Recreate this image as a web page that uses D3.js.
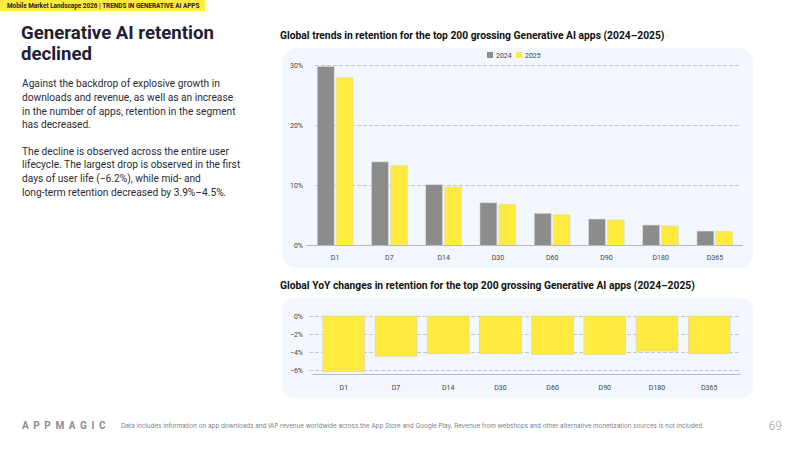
<!DOCTYPE html>
<html lang="en">
<head>
  <meta charset="UTF-8">
  <title>Generative AI retention declined</title>
  <script src="https://d3js.org/d3.v7.min.js"></script>
  <style>
    body {
      margin: 0;
      background: #fff;
      font-family: 'Roboto', 'Inter', sans-serif;
    }

    .grid line {
      stroke: #c8c8c8;
      stroke-dasharray: 4 2;
      shape-rendering: crispEdges;
    }

    .grid path {
      stroke-width: 0;
    }

    .axis text {
      font-family: 'Roboto', sans-serif;
      font-size: 7px;
      fill: #444;
    }

    .axis path, .axis line {
      display: none;
    }

    .body-text {
      font-size: 10.2px;
      fill: #2b2b33;
    }
  </style>
</head>
<body>
  <svg width="800" height="450"></svg>

  <script>
    const periods = ["D1", "D7", "D14", "D30", "D60", "D90", "D180", "D365"];
    const years = ["2024", "2025"];
    const retention2024 = [29.75, 13.9, 10.1, 7.1, 5.35, 4.4, 3.4, 2.4];
    const retention2025 = [27.9, 13.3, 9.75, 6.85, 5.1, 4.25, 3.25, 2.35];
    const yoyChange = [-6.2, -4.5, -4.2, -4.2, -4.3, -4.3, -3.9, -4.2];
    const topTicks = [0, 10, 20, 30];
    const bottomTicks = [0, -2, -4, -6];

    const colors = { "2024": "#8c8c8c", "2025": "#ffea3f" };

    const svg = d3.select("svg");

    // Header banner
    svg.append("rect").attr("x", 0).attr("y", 0).attr("width", 205).attr("height", 11).attr("fill", "#ffea3f");
    svg.append("text").attr("x", 7).attr("y", 8)
      .style("font-size", "6.4px").style("font-weight", "bold").attr("fill", "#1e2035")
      .text("Mobile Market Landscape 2026 | TRENDS IN GENERATIVE AI APPS");

    // Left headline
    const headline = svg.append("text")
      .style("font-size", "18.6px").style("font-weight", "bold").attr("fill", "#1e2035");
    headline.append("tspan").attr("x", 21).attr("y", 38.5).text("Generative AI retention");
    headline.append("tspan").attr("x", 21).attr("y", 59.5).text("declined");

    const para1 = [
      "Against the backdrop of explosive growth in",
      "downloads and revenue, as well as an increase",
      "in the number of apps, retention in the segment",
      "has decreased."
    ];
    const para2 = [
      "The decline is observed across the entire user",
      "lifecycle. The largest drop is observed in the first",
      "days of user life (\u22126.2%), while mid- and",
      "long-term retention decreased by 3.9%\u20134.5%."
    ];
    para1.forEach((t, i) => svg.append("text").attr("class", "body-text")
      .attr("x", 22).attr("y", 87 + i * 13.8).text(t));
    para2.forEach((t, i) => svg.append("text").attr("class", "body-text")
      .attr("x", 22).attr("y", 154.5 + i * 13.8).text(t));

    // Chart titles
    svg.append("text").attr("x", 280).attr("y", 38.5)
      .style("font-size", "10.3px").style("font-weight", "bold").attr("fill", "#111")
      .text("Global trends in retention for the top 200 grossing Generative AI apps (2024\u20132025)");
    svg.append("text").attr("x", 280).attr("y", 288.5)
      .style("font-size", "10.3px").style("font-weight", "bold").attr("fill", "#111")
      .text("Global YoY changes in retention for the top 200 grossing Generative AI apps (2024\u20132025)");

    // Panels
    svg.append("rect").attr("x", 282).attr("y", 48).attr("width", 471).attr("height", 220)
      .attr("rx", 15).attr("fill", "#f2f6fd");
    svg.append("rect").attr("x", 282).attr("y", 298).attr("width", 471).attr("height", 100)
      .attr("rx", 12).attr("fill", "#f2f6fd");

    // ---- Top chart: grouped bars
    const data = periods.map((p, i) => ({ period: p, "2024": retention2024[i], "2025": retention2025[i] }));

    const x0 = d3.scaleBand().domain(periods).range([308, 742]).paddingInner(0.27).paddingOuter(0.135);
    const x1 = d3.scaleBand().domain(years).range([0, x0.bandwidth()]).padding(0.1);
    const y = d3.scaleLinear().domain([0, 30]).range([245.5, 65]);

    svg.append("g").attr("class", "grid")
      .attr("transform", "translate(315,0)")
      .call(d3.axisLeft(y).tickValues(topTicks.slice(1)).tickSize(-426).tickFormat(""));

    svg.append("g").attr("class", "axis")
      .attr("transform", "translate(306,0)")
      .call(d3.axisLeft(y).tickValues(topTicks).tickFormat(d => d + "%").tickSize(0).tickPadding(3));

    const groups = svg.append("g").selectAll("g")
      .data(data).enter().append("g")
      .attr("transform", d => `translate(${x0(d.period)},0)`);

    groups.selectAll("rect")
      .data(d => years.map(k => ({ key: k, value: d[k] })))
      .enter().append("rect")
      .attr("x", d => x1(d.key))
      .attr("y", d => y(d.value))
      .attr("width", x1.bandwidth())
      .attr("height", d => y(0) - y(d.value))
      .attr("fill", d => colors[d.key])
      .attr("stroke", "#dcdcdc")
      .attr("stroke-width", 0.6);

    svg.append("line").attr("x1", 306).attr("x2", 743).attr("y1", y(0)).attr("y2", y(0))
      .attr("stroke", "#b8b8c0").attr("stroke-width", 1);

    svg.append("g").attr("class", "axis")
      .attr("transform", `translate(0,${y(0)})`)
      .call(d3.axisBottom(x0).tickSize(0).tickPadding(10));

    // Legend
    const legend = svg.append("g").attr("transform", "translate(487,52)");
    years.forEach((k, i) => {
      const lg = legend.append("g").attr("transform", `translate(${i * 29},0)`);
      lg.append("rect").attr("width", 6).attr("height", 6).attr("fill", colors[k]);
      lg.append("text").attr("x", 9).attr("y", 5.5)
        .style("font-family", "Roboto").style("font-size", "7px").attr("fill", "#444").text(k);
    });

    // ---- Bottom chart: YoY change
    const xb = d3.scaleBand().domain(periods).range([312.5, 740.5]).padding(0.2);
    const yb = d3.scaleLinear().domain([-6.5, 0]).range([374.5, 316]);

    svg.append("g").attr("class", "grid")
      .attr("transform", "translate(309,0)")
      .call(d3.axisLeft(yb).tickValues(bottomTicks).tickSize(-431).tickFormat(""));

    svg.append("g").attr("class", "axis")
      .attr("transform", "translate(306,0)")
      .call(d3.axisLeft(yb).tickValues(bottomTicks)
        .tickFormat(d => (d === 0 ? "0" : "\u2212" + Math.abs(d)) + "%").tickSize(0).tickPadding(3));

    svg.append("g").selectAll("rect")
      .data(periods.map((p, i) => ({ period: p, value: yoyChange[i] })))
      .enter().append("rect")
      .attr("x", d => xb(d.period))
      .attr("y", yb(0))
      .attr("width", xb.bandwidth())
      .attr("height", d => yb(d.value) - yb(0))
      .attr("fill", colors["2025"])
      .attr("stroke", "#d0d0d0")
      .attr("stroke-width", 0.6);

    svg.append("line").attr("x1", 312.5).attr("x2", 740.5).attr("y1", 374.5).attr("y2", 374.5)
      .attr("stroke", "#b8b8c0").attr("stroke-width", 1);

    svg.append("g").attr("class", "axis")
      .attr("transform", "translate(0,374.5)")
      .call(d3.axisBottom(xb).tickSize(0).tickPadding(11));

    // Footer
    svg.append("text").attr("x", 22).attr("y", 429)
      .style("font-size", "10px").style("font-weight", "bold").style("letter-spacing", "4.6px")
      .attr("fill", "#8a8d99").text("APPMAGIC");
    svg.append("text").attr("x", 121).attr("y", 428)
      .style("font-family", "Inter").style("font-size", "6.3px").attr("fill", "#7a7d88")
      .text("Data includes information on app downloads and IAP revenue worldwide across the App Store and Google Play. Revenue from webshops and other alternative monetization sources is not included.");
    svg.append("text").attr("x", 782).attr("y", 430).attr("text-anchor", "end")
      .style("font-size", "12px").style("font-weight", 300).attr("fill", "#9a9ca5").text("69");
  </script>
</body>
</html>
